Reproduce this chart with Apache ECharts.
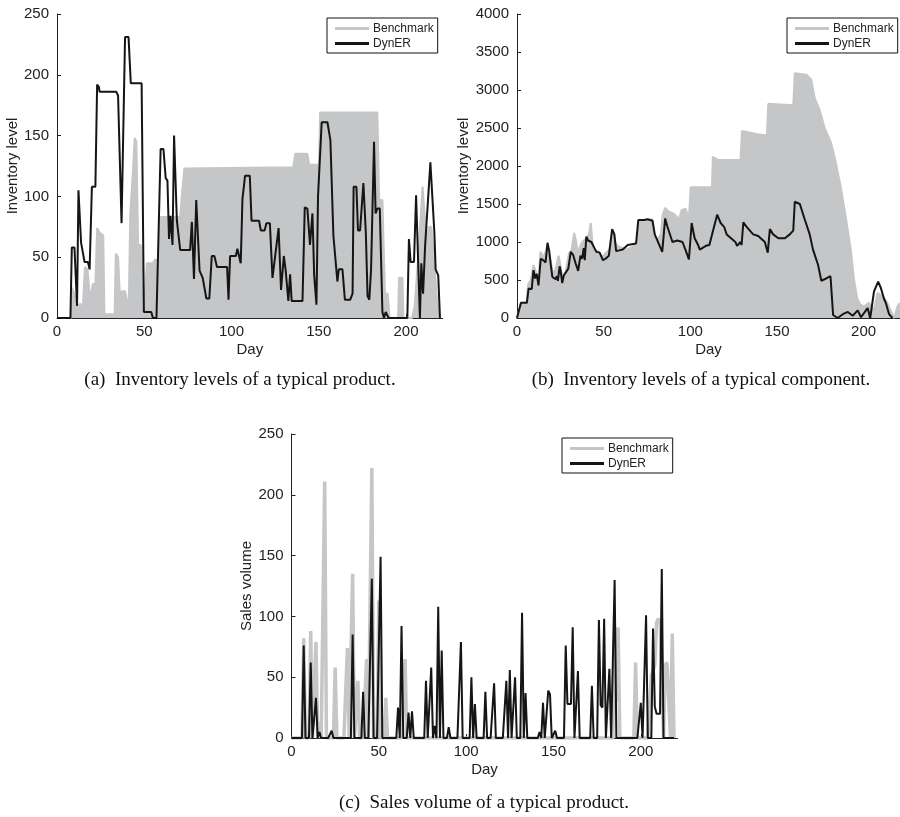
<!DOCTYPE html>
<html>
<head>
<meta charset="utf-8">
<script src="https://cdn.jsdelivr.net/npm/echarts@6/dist/echarts.min.js"></script>
<style>html,body{margin:0;padding:0;background:#fff}#c{width:900px;height:817px}</style>
</head>
<body>
<div id="c"></div>
<script>
// ---------- data (day, value) ----------
const xTicks = [0, 50, 100, 150, 200];
const seriesNames = ['Benchmark', 'DynER'];

// (a) Inventory levels of a typical product
const aBench = [[0,0],[8,0],[8.5,25],[10,20],[11,12],[12.5,10],[13.5,12],[14.5,0],[15.5,0],[16,42],[17.5,40],[18.7,20],[19.5,18],[20.5,28],[22,28],[23,74],[24.5,70],[26.5,68],[27.2,3],[33,3],[33.7,53],[35,50],[36,20],[37,22],[39,22],[40,15],[41,0],[41.5,0],[42,86],[43.5,120],[44.5,148],[45.5,145],[46.5,60],[48,60],[49,40],[49.8,5],[50.5,5],[51.5,45],[55,45],[56,48],[58.5,48],[59,83],[70.6,83],[71.5,100],[72.5,100],[73,123],[135.4,124],[136.5,135],[143.5,135],[144.5,126],[150.2,126],[150.8,169],[183.6,169],[184.6,97],[186.5,97],[187.2,60],[188,20],[189.5,20],[190.6,0],[195.5,0],[196,33],[198,33],[198.5,0],[203.5,0],[205,10],[207,50],[209.5,108],[210.5,108],[212,60],[213,75],[214.5,75],[216,50],[217.5,20],[219,0]];
const aDyn = [[0,0],[7.7,0],[8.5,58],[10,58],[11.5,10],[12.3,105],[13.8,62],[14.8,62],[15.8,46],[17.7,46],[18.7,40],[20,108],[22,108],[23,192],[24,190],[24.4,186],[34,186],[35,183],[37,78],[39,231],[41,231],[42.3,193],[48.5,193],[49.8,5],[54,5],[55,0],[57,0],[59.4,139],[61,139],[62.3,115],[63.3,113],[64.2,65],[65,84],[66.2,60],[67.1,150],[68.7,80],[69.6,80],[70.6,56],[76.3,56],[77.3,79],[78.5,32],[79.8,97],[80.6,97],[81.7,39],[83.5,33],[85.6,16],[87.3,16],[88.7,51],[90.2,51],[91.7,42],[97.5,42],[98.3,15],[99.2,51],[102.5,51],[103.4,57],[104.4,57],[105.3,45],[106.3,98],[107.8,117],[110.5,117],[111.5,80],[115.8,80],[116.8,72],[119,72],[120,78],[122,78],[123.5,33],[124.5,33],[127,74],[128.4,23],[130,51],[131,40],[132.6,14],[133.6,36],[134.5,14],[140.7,14],[142,91],[143.5,90],[145,60],[146.4,86],[147.4,35],[148.7,11],[149.6,100],[150.2,100],[151.7,161],[155,161],[156.7,146],[158.4,68],[159,68],[160.7,30],[161.5,40],[163.6,40],[165,15],[168,15],[169.4,20],[170,108],[171.6,108],[172.5,72],[173.7,72],[175.6,111],[177,70],[178,18],[179,15],[180,40],[181.7,145],[182.6,86],[183.6,90],[185,90],[186.5,5],[187.4,0],[188.4,5],[190,0],[200.8,0],[201.7,65],[202.7,46],[204.6,46],[205.8,101],[208,0],[208.8,45],[209.8,20],[211,60],[214,128],[216.3,70],[217,40],[218.5,35],[219.5,0]];

// (b) Inventory levels of a typical component
const bBench = [[0,0],[1,0],[2.3,200],[5.5,200],[6.5,450],[8,500],[9.5,700],[11,600],[12.4,500],[13.5,870],[15.5,800],[17.5,950],[19,800],[20.5,620],[22,620],[24,820],[25,700],[26.1,550],[28,600],[30,850],[31.5,900],[33,1120],[34.2,1000],[35,850],[36.5,950],[37.6,1000],[40,1050],[41.5,1100],[42.6,1250],[43.5,1000],[44.5,900],[47,880],[49,800],[51,850],[53.4,900],[55,1150],[56.5,1000],[58,950],[63,900],[69,960],[70.3,1280],[78,1300],[80,1000],[83,1100],[84,1350],[85.5,1450],[87.5,1400],[89.7,1380],[91.5,1350],[93.5,1300],[95,1420],[97.3,1440],[99.2,1300],[100.2,1720],[112.5,1720],[113,2120],[116,2080],[129,2080],[129.8,2460],[138,2420],[144.2,2400],[145,2820],[159.4,2800],[160.3,3220],[167,3200],[169.8,3140],[171.7,2900],[174.6,2740],[177.5,2500],[181.3,2300],[184,2040],[187,1700],[189.9,1300],[192.6,900],[194.5,500],[196.4,250],[198,180],[200.2,150],[203,200],[206,100],[208,330],[211.8,270],[213.7,200],[215.6,100],[217.6,0],[219.5,150],[221,200]];
const bDyn = [[0,0],[1,0],[2.3,200],[5.7,200],[6.7,390],[8.5,380],[9.5,630],[10.5,520],[11.4,580],[12.4,430],[13.7,780],[15.2,760],[16.5,730],[17.6,990],[18.6,880],[19.5,700],[20.4,540],[22.3,510],[23,550],[23.6,490],[24.6,680],[25.2,620],[26.1,460],[27,560],[28,540],[29.6,650],[31,870],[32.4,830],[33.8,720],[35.3,620],[36.6,820],[37.6,780],[38.5,920],[39.1,760],[40,1070],[41,1020],[42.9,1000],[43.9,980],[45.8,870],[47.7,860],[49.6,760],[51.1,780],[53,820],[54.9,1170],[56.2,1100],[57.2,880],[59,890],[61,900],[63.9,960],[68.7,980],[70,1290],[73.4,1290],[75.3,1300],[78.2,1280],[79.5,1100],[83.8,870],[85.5,1310],[86.8,1200],[89.7,1000],[92.5,1020],[93.5,1040],[95.5,1000],[97.5,880],[99.2,770],[100.8,1250],[102.5,1050],[104.5,960],[105.5,900],[109,950],[111,960],[115.5,1360],[117.5,1250],[119.5,1200],[121,1100],[126,1000],[127,950],[128.9,1000],[129.6,960],[130.6,1260],[132.5,1200],[134.4,1150],[136.3,1100],[139.2,1080],[143,1000],[144.7,860],[145.9,1170],[147.8,1100],[150.8,1050],[154.6,1050],[157.4,1100],[159.4,1150],[160.3,1530],[163.2,1500],[166,1300],[168.9,1100],[170.8,900],[173.7,700],[175.6,490],[178.4,520],[180.9,550],[182.4,40],[185,0],[188,50],[190.9,80],[193.7,30],[196.6,100],[198.5,10],[202.3,130],[203.8,0],[206,350],[208.4,480],[209.9,400],[211.8,250],[212.8,200],[214.7,50],[216.6,0]];

// (c) Sales volume of a typical product: non-zero days [day, value]
const cBenchSpikes = [[7,82],[11,88],[14,79],[16,13],[19,211],[25,58],[32,74],[35,135],[38,47],[43,65],[46,222],[50,113],[54,33],[65,65],[185,91],[186,30],[187,91],[197,62],[206,51],[207,55],[208,60],[209,95],[210,98],[211,96],[212,60],[214,60],[215,62],[216,62],[218,86]];
const cDynSpikes = [[7,76],[11,62],[14,33],[16,5],[23,6],[35,85],[41,38],[46,131],[51,149],[61,25],[63,92],[67,21],[69,22],[77,47],[80,58],[82,10],[84,108],[86,72],[90,9],[97,79],[103,50],[105,28],[111,38],[116,45],[123,47],[125,56],[128,50],[132,103],[134,37],[142,5],[144,29],[147,39],[148,36],[151,6],[157,76],[158,28],[159,27],[160,28],[161,91],[164,55],[172,43],[176,97],[177,27],[178,25],[179,98],[182,57],[185,130],[200,29],[203,101],[207,90],[208,26],[209,20],[210,20],[211,20],[212,139]];
const cLastDay = 219;

// ---------- build ----------
function daily(spikes) {
  const m = new Map(spikes.map(p => [p[0], p[1]]));
  const out = [];
  for (let d = 0; d <= cLastDay; d++) out.push([d, m.has(d) ? m.get(d) : 0]);
  return out;
}

const GREY = '#c5c6c8', BLACK = '#151515', AX = '#222';
const SANS = 'Liberation Sans, Arial, Helvetica, sans-serif';
const SERIF = 'Liberation Serif, Times New Roman, serif';

function xAx(idx) {
  return {
    type: 'value', gridIndex: idx, min: 0, max: 221, interval: 50,
    name: 'Day', nameLocation: 'middle', nameGap: 24,
    nameTextStyle: { fontFamily: SANS, fontSize: 15, color: AX },
    axisLine: { show: true, onZero: false, lineStyle: { color: AX, width: 1 } },
    axisTick: { show: true, inside: true, length: 4, lineStyle: { color: AX }, customValues: xTicks },
    axisLabel: { fontFamily: SANS, fontSize: 15, color: AX, margin: 6, customValues: xTicks },
    splitLine: { show: false }
  };
}
function yAx(idx, max, interval, name, gap) {
  return {
    type: 'value', gridIndex: idx, min: 0, max: max, interval: interval,
    name: name, nameLocation: 'middle', nameGap: gap,
    nameTextStyle: { fontFamily: SANS, fontSize: 15, color: AX },
    axisLine: { show: true, lineStyle: { color: AX, width: 1 } },
    axisTick: { show: true, inside: true, length: 4, lineStyle: { color: AX } },
    axisLabel: { fontFamily: SANS, fontSize: 15, color: AX, margin: 8, formatter: v => String(v) },
    splitLine: { show: false }
  };
}
function legend(left, top) {
  return {
    data: seriesNames, orient: 'vertical', left: left, top: top,
    icon: 'rect', itemWidth: 34, itemHeight: 3, itemGap: 2,
    padding: [4, 4, 3, 8], borderColor: '#111', borderWidth: 1, backgroundColor: '#fff',
    textStyle: { fontFamily: SANS, fontSize: 12, color: AX, lineHeight: 13, padding: [0, 0, 0, -1] },
    selectedMode: false
  };
}

const chart = echarts.init(document.getElementById('c'), null, { renderer: 'canvas' });
chart.setOption({
  animation: false,
  backgroundColor: '#fff',
  grid: [
    { left: 57, top: 14, width: 385.6, height: 304 },
    { left: 517, top: 14, width: 387.4, height: 304 },
    { left: 291.5, top: 434, width: 386, height: 304 }
  ],
  xAxis: [xAx(0), xAx(1), xAx(2)],
  yAxis: [
    yAx(0, 250, 50, 'Inventory level', 34),
    yAx(1, 4000, 500, 'Inventory level', 46),
    yAx(2, 250, 50, 'Sales volume', 37)
  ],
  legend: [legend(327, 18), legend(787, 18), legend(562, 438)],
  series: [
    { name: 'Benchmark', type: 'line', xAxisIndex: 0, yAxisIndex: 0, data: aBench, symbol: 'none',
      lineStyle: { color: GREY, width: 2 }, itemStyle: { color: GREY }, areaStyle: { color: GREY, opacity: 1 } },
    { name: 'DynER', type: 'line', xAxisIndex: 0, yAxisIndex: 0, data: aDyn, symbol: 'none',
      lineStyle: { color: BLACK, width: 2 }, itemStyle: { color: BLACK } },
    { name: 'Benchmark', type: 'line', xAxisIndex: 1, yAxisIndex: 1, data: bBench, symbol: 'none',
      lineStyle: { color: GREY, width: 2 }, itemStyle: { color: GREY }, areaStyle: { color: GREY, opacity: 1 } },
    { name: 'DynER', type: 'line', xAxisIndex: 1, yAxisIndex: 1, data: bDyn, symbol: 'none',
      lineStyle: { color: BLACK, width: 2 }, itemStyle: { color: BLACK } },
    { name: 'Benchmark', type: 'line', xAxisIndex: 2, yAxisIndex: 2, data: daily(cBenchSpikes), symbol: 'none',
      lineStyle: { color: GREY, width: 3.5 }, itemStyle: { color: GREY } },
    { name: 'DynER', type: 'line', xAxisIndex: 2, yAxisIndex: 2, data: daily(cDynSpikes), symbol: 'none',
      lineStyle: { color: BLACK, width: 2 }, itemStyle: { color: BLACK } }
  ],
  graphic: [
    { type: 'text', x: 240, y: 380, style: { text: '(a)  Inventory levels of a typical product.', font: '19px ' + SERIF, fill: '#111', textAlign: 'center', textVerticalAlign: 'middle' } },
    { type: 'text', x: 701, y: 380, style: { text: '(b)  Inventory levels of a typical component.', font: '19px ' + SERIF, fill: '#111', textAlign: 'center', textVerticalAlign: 'middle' } },
    { type: 'text', x: 484, y: 803, style: { text: '(c)  Sales volume of a typical product.', font: '19px ' + SERIF, fill: '#111', textAlign: 'center', textVerticalAlign: 'middle' } }
  ]
});
</script>
</body>
</html>
